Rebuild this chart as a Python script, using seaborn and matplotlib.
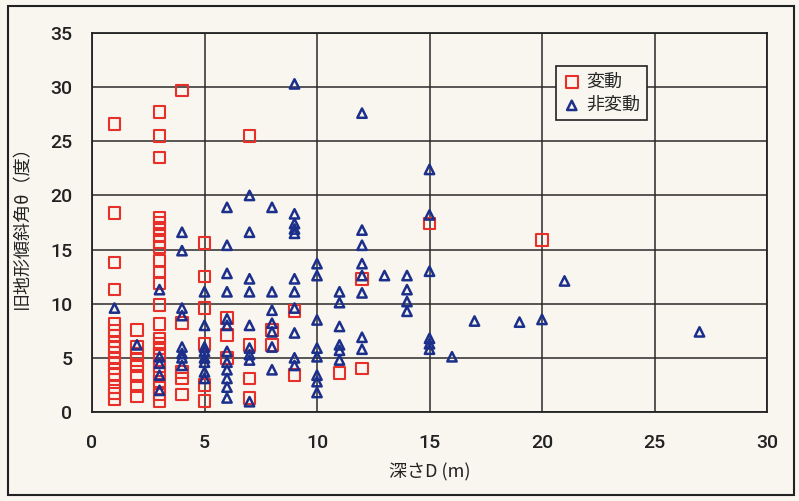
import matplotlib
matplotlib.use("Agg")
import matplotlib.pyplot as plt
import matplotlib.patches as mpatches
import seaborn as sns
import pandas as pd

# 変動 (red squares)
hen_x = [1]*18 + [2]*8 + [3]*25 + [4]*5 + [5]*6 + [6]*3 + [7]*4 + [8]*2 + [9]*2 + [11] + [12]*2 + [15] + [20]
hen_y = [26.6, 18.4, 13.8, 11.3, 8.1, 7.5, 7.0, 6.5, 6.0, 5.5, 5.0, 4.5, 4.0, 3.5, 3.0, 2.3, 1.7, 1.2,
         7.6, 6.0, 5.4, 4.8, 4.2, 3.3, 2.4, 1.5,
         27.7, 25.5, 23.5, 17.9, 17.5, 17.0, 16.3, 15.7, 15.2, 14.0, 12.9, 11.9, 9.9, 8.1, 6.8, 6.3, 5.9,
         5.4, 4.8, 4.2, 3.6, 2.8, 2.2, 1.6, 1.0,
         29.7, 8.2, 3.7, 3.1, 1.6,
         15.6, 12.5, 9.6, 6.3, 2.5, 1.0,
         8.7, 7.1, 5.0,
         25.5, 6.2, 3.1, 1.3,
         7.6, 6.2,
         9.3, 3.4,
         3.6,
         12.3, 4.0,
         17.4,
         15.9]

# 非変動 (blue triangles)
hi_x = ([1] + [2] + [3]*5 + [4]*8 + [5]*8 + [6]*12 + [7]*9 + [8]*7 + [9]*11 + [10]*8 + [11]*6
        + [12]*8 + [13] + [14]*4 + [15]*6 + [16] + [17] + [19] + [20] + [21] + [27])
hi_y = [9.6,
        6.2,
        11.3, 5.1, 4.5, 3.4, 2.0,
        16.6, 14.9, 9.6, 8.9, 6.0, 5.4, 5.0, 4.3,
        11.1, 8.0, 6.0, 5.6, 5.0, 4.6, 3.7, 3.1,
        18.9, 15.4, 12.8, 11.1, 8.6, 8.0, 5.6, 4.6, 3.9, 3.1, 2.3, 1.3,
        20.0, 16.6, 12.3, 11.1, 8.0, 5.9, 5.3, 4.8, 0.95,
        18.9, 11.1, 9.4, 8.2, 7.4, 6.0, 3.9,
        30.3, 18.3, 17.4, 16.9, 16.5, 12.3, 11.1, 9.6, 7.3, 5.0, 4.3,
        13.7, 12.6, 8.5, 5.9, 5.1, 3.4, 2.8, 1.8,
        11.1, 10.1, 7.9, 6.2, 5.7, 4.8,
        27.6, 16.8, 15.4, 13.7, 12.6, 11.0, 6.9, 5.8,
        12.6,
        12.6, 11.3, 10.2, 9.3,
        22.4, 18.2, 13.0, 6.8, 6.3, 5.8,
        5.1,
        8.4,
        8.3,
        8.55,
        12.1,
        7.4]

series_labels = ["変動", "非変動"]
x_ticks = [0, 5, 10, 15, 20, 25, 30]
y_ticks = [0, 5, 10, 15, 20, 25, 30, 35]

sns.set_theme(style="white")
plt.rcParams['font.family'] = ['Noto Sans CJK JP', 'DejaVu Sans']
tick_family = ['Roboto', 'DejaVu Sans']

bg = '#f8f6ef'
fig = plt.figure(figsize=(7.99, 5.01), dpi=100, facecolor=bg)
ax = fig.add_axes([92/799, 1-412/501, 675/799, 379/501])
ax.set_facecolor(bg)

red = '#e8302a'
blue = '#1c2f8a'

df_h = pd.DataFrame({'x': hen_x, 'y': hen_y})
df_n = pd.DataFrame({'x': hi_x, 'y': hi_y})

sns.scatterplot(data=df_h, x='x', y='y', marker='s', s=70, facecolor='none',
                edgecolor=red, linewidth=1.5, label=series_labels[0], ax=ax, zorder=3)
sns.scatterplot(data=df_n, x='x', y='y', marker='^', s=45, facecolor='none',
                edgecolor=blue, linewidth=1.8, label=series_labels[1], ax=ax, zorder=4)

ax.set_xlim(0, 30)
ax.set_ylim(0, 35)
ax.set_xticks(x_ticks)
ax.set_yticks(y_ticks)
ax.grid(True, color='#2a2a2a', linewidth=1.1)
ax.set_axisbelow(True)
for sp in ax.spines.values():
    sp.set_color('#222222')
    sp.set_linewidth(1.3)
ax.tick_params(axis='both', length=0, labelsize=14, colors='#222222')
ax.tick_params(axis='x', pad=16)
ax.tick_params(axis='y', pad=14)
for lab in ax.get_xticklabels() + ax.get_yticklabels():
    lab.set_family(tick_family)
    lab.set_fontweight('medium')

ax.set_xlabel("深さD (m)", fontsize=13, color='#222222', labelpad=8)
ax.set_ylabel("旧地形傾斜角θ（度）", fontsize=13, color='#222222', labelpad=14)

leg = ax.legend(loc='upper left', bbox_to_anchor=(0.688, 0.912), frameon=True,
                fancybox=False, edgecolor='#222222', facecolor=bg, framealpha=1,
                fontsize=13, handletextpad=0.3, borderpad=0.35, labelspacing=0.3,
                handlelength=1.0, borderaxespad=0)
leg.get_frame().set_linewidth(1.2)

fig.patches.append(mpatches.Rectangle((8/799, 6/501), 786/799, 489/501, transform=fig.transFigure,
                                      fill=False, edgecolor='#222222', linewidth=1.5))

fig.savefig('out.png', dpi=100, facecolor=bg)
